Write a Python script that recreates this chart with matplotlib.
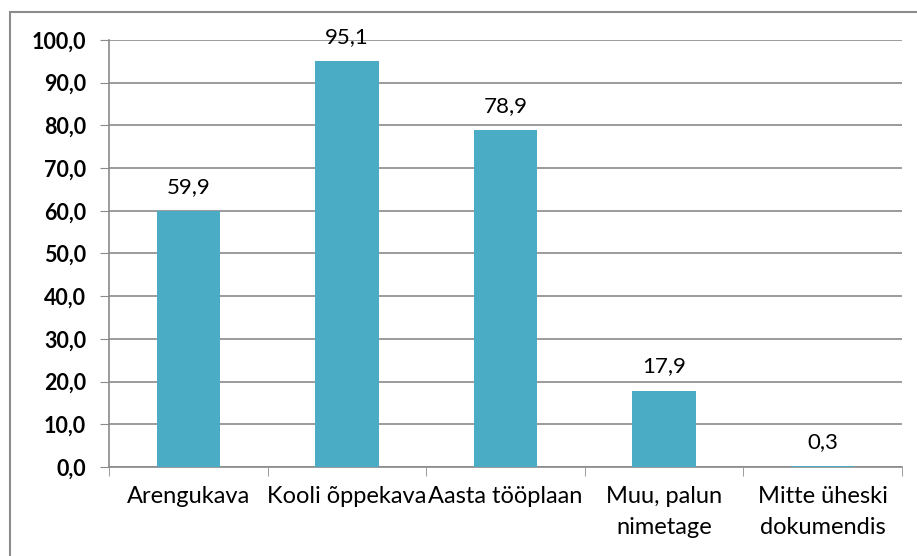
import numpy as np
import matplotlib.pyplot as plt
from matplotlib.patches import Rectangle

# -----------------------------
# Data
# -----------------------------
categories = ["Arengukava", "Kooli õppekava", "Aasta tööplaan",
              "Muu, palun\nnimetage", "Mitte üheski\ndokumendis"]
values = [59.9, 95.1, 78.9, 17.9, 0.3]
y_ticks = [0, 10, 20, 30, 40, 50, 60, 70, 80, 90, 100]

plt.rcParams['font.family'] = ['Lato', 'DejaVu Sans']

fig = plt.figure(figsize=(9.17, 5.56), dpi=100)
ax = fig.add_axes([109 / 917, 1 - 467 / 556, 793 / 917, 427 / 556])

# outer chart border
fig.patches.append(Rectangle((10 / 917, -0.1), 1.2, 1 - 12 / 556 + 0.1,
                             transform=fig.transFigure, fill=False,
                             edgecolor="#8c8c8c", linewidth=1.5))

x = np.arange(len(categories))
ax.bar(x, values, width=0.4, color="#4BACC6", zorder=3)

for xi, v in zip(x, values):
    ax.annotate(f"{v:.1f}".replace(".", ","), (xi, v), xytext=(0, 13),
                textcoords="offset points", ha="center", va="baseline",
                fontsize=16)

ax.set_xlim(-0.5, len(categories) - 0.5)
ax.set_ylim(0, 100)
ax.set_yticks(y_ticks)
ax.set_yticklabels([f"{t:.1f}".replace(".", ",") for t in y_ticks],
                   fontsize=15.5, fontweight="bold")
ax.yaxis.grid(True, color="#8a8a8a", linewidth=1.2, zorder=0)

ax.set_xticks(x)
ax.set_xticklabels(categories, fontsize=17, linespacing=1.55)
ax.set_xticks(np.arange(len(categories) + 1) - 0.5, minor=True)
ax.tick_params(axis="x", which="major", length=0, pad=14)
ax.tick_params(axis="x", which="minor", length=6.5, color="#8a8a8a")
ax.tick_params(axis="y", length=6.5, color="#8a8a8a", pad=10)

for s in ["top", "right"]:
    ax.spines[s].set_visible(False)
for s in ["left", "bottom"]:
    ax.spines[s].set_color("#8a8a8a")
    ax.spines[s].set_linewidth(1.2)

plt.savefig("out.png", dpi=100)
